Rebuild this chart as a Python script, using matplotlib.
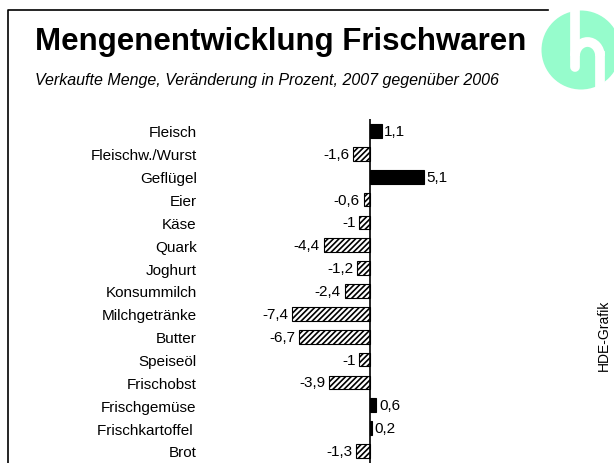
import numpy as np
import matplotlib.pyplot as plt
from matplotlib.patches import Circle, Arc

plt.rcParams['font.family'] = ['Liberation Sans', 'DejaVu Sans']
plt.rcParams['hatch.linewidth'] = 1.2

# data
categories = ['Fleisch', 'Fleischw./Wurst', 'Geflügel', 'Eier', 'Käse', 'Quark',
              'Joghurt', 'Konsummilch', 'Milchgetränke', 'Butter', 'Speiseöl',
              'Frischobst', 'Frischgemüse', 'Frischkartoffel ', 'Brot']
values = [1.1, -1.6, 5.1, -0.6, -1.0, -4.4, -1.2, -2.4, -7.4, -6.7, -1.0,
          -3.9, 0.6, 0.2, -1.3]
labels = ['1,1', '-1,6', '5,1', '-0,6', '-1', '-4,4', '-1,2', '-2,4', '-7,4',
          '-6,7', '-1', '-3,9', '0,6', '0,2', '-1,3']

W, H = 614, 464
fig = plt.figure(figsize=(W / 100, H / 100), dpi=100)

# overlay for frame, logo, titles (pixel coords)
bg = fig.add_axes([0, 0, 1, 1])
bg.set_xlim(0, W)
bg.set_ylim(H, 0)
bg.axis('off')
bg.plot([8, 8, 548], [H + 5, 11, 11], color='black', lw=1.2)
bg.add_patch(Circle((581, 51), 39.5, color='#96fccc', lw=0))
lw_logo = 7
bg.plot([575, 575], [8, 68], color='white', lw=lw_logo, solid_capstyle='round')
bg.add_patch(Arc((587.5, 57), 25, 28, theta1=180, theta2=360,
                 color='white', lw=lw_logo))
bg.plot([600, 600], [57, 96], color='white', lw=lw_logo)
bg.text(281, 42, 'Mengenentwicklung Frischwaren', fontsize=22.5,
        fontweight='bold', ha='center', va='center')
bg.text(267, 80, 'Verkaufte Menge, Veränderung in Prozent, 2007 gegenüber 2006',
        fontsize=11.5, style='italic', ha='center', va='center')
bg.text(604, 335, 'HDE-Grafik', fontsize=10, rotation=90, ha='center', va='center')

# bar chart
ax = fig.add_axes([205 / W, 0, 315 / W, 344 / H])
ax.patch.set_alpha(0)
scale = 10.55
ax.set_xlim((205 - 370) / scale, (520 - 370) / scale)
ax.set_ylim(len(values) - 0.475, -0.525)
y = np.arange(len(values))
for yi, v, lab in zip(y, values, labels):
    if v >= 0:
        ax.barh(yi, v, height=0.6, color='black', edgecolor='black', lw=0.8)
        ax.text(v + 0.25, yi, lab, ha='left', va='center', fontsize=11)
    else:
        ax.barh(yi, v, height=0.6, color='white', edgecolor='black',
                hatch='//////', lw=0.8)
        ax.text(v - 0.35, yi, lab, ha='right', va='center', fontsize=11)
ax.axvline(0, color='black', lw=1.2)
ax.set_yticks(y)
ax.set_yticklabels(categories, fontsize=11)
ax.tick_params(axis='y', length=0, pad=6)
ax.set_xticks([])
for s in ax.spines.values():
    s.set_visible(False)

fig.savefig('out.png', dpi=100)
